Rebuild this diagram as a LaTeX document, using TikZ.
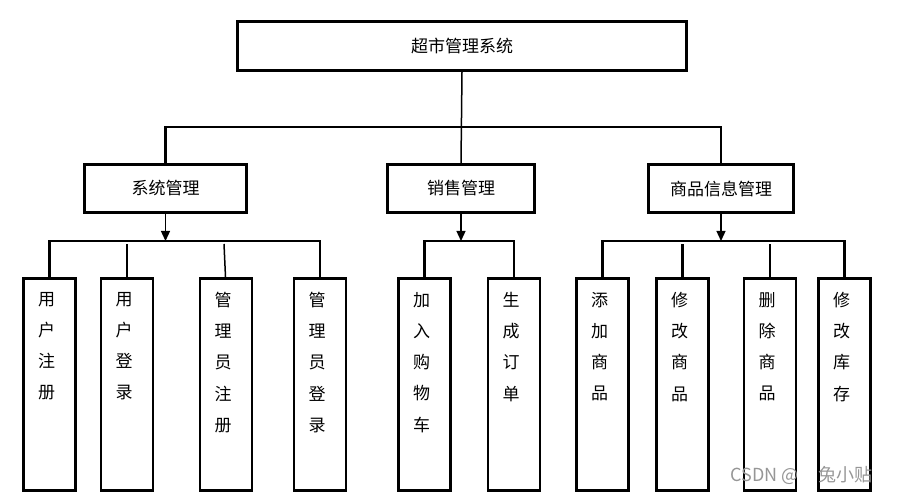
\documentclass[tikz,border=0pt]{standalone}
\usepackage{fontspec}
\newfontfamily\cjk{Noto Sans CJK SC}
\usetikzlibrary{arrows.meta}
\definecolor{wmgray}{RGB}{150,150,150}
\begin{document}
\begin{tikzpicture}[x=1pt,y=-1pt,
  box/.style={draw, line width=2.7pt, inner sep=0pt, font=\cjk\fontsize{17pt}{20pt}\selectfont},
  tall/.style={box, minimum width=52pt, minimum height=212.3pt},
  mid/.style={box, minimum height=48.3pt},
  vtext/.style={anchor=north, inner sep=0pt, align=center, font=\cjk\fontsize{17pt}{31.2pt}\selectfont},
  bar/.style={line width=2.7pt},
  stub/.style={line width=2.4pt},
  thinline/.style={line width=1.5pt},
  arr/.style={line width=1.3pt, -{Triangle[width=9pt,length=10pt]}},
  wm/.style={inner sep=0pt, text=wmgray, font=\cjk\fontsize{18pt}{20pt}\selectfont}
]
\useasboundingbox (0,0) rectangle (908,494);

% top
\node[box, minimum width=449.3pt, minimum height=49.3pt] (top) at (462,46) {超市管理系统};

% middle level
\node[mid, minimum width=162.3pt] (sys) at (165.5,188.5) {系统管理};
\node[mid, minimum width=147.3pt] (sales) at (461,188.5) {销售管理};
\node[mid, minimum width=145.3pt] (goods) at (721,188.5) {商品信息管理};

% bottom level
\node[tall] (u1) at (49.5,384.5) {};
\node[tall] (u2) at (127,384.5) {};
\node[tall] (u3) at (226,384.5) {};
\node[tall] (u4) at (320,384.5) {};
\node[tall] (s1) at (424.5,384.5) {};
\node[tall] (s2) at (514,384.5) {};
\node[tall] (g1) at (602.5,384.5) {};
\node[tall] (g2) at (682.5,384.5) {};
\node[tall] (g3) at (770,384.5) {};
\node[tall] (g4) at (844.5,384.5) {};

\node[vtext] (tu1) at ([xshift=-3pt,yshift=-15pt]u1.north) {用\\户\\注\\册};
\node[vtext] (tu2) at ([xshift=-3pt,yshift=-15pt]u2.north) {用\\户\\登\\录};
\node[vtext] (tu3) at ([xshift=-3pt,yshift=-15pt]u3.north) {管\\理\\员\\注\\册};
\node[vtext] (tu4) at ([xshift=-3pt,yshift=-15pt]u4.north) {管\\理\\员\\登\\录};
\node[vtext] (ts1) at ([xshift=-3pt,yshift=-15pt]s1.north) {加\\入\\购\\物\\车};
\node[vtext] (ts2) at ([xshift=-3pt,yshift=-15pt]s2.north) {生\\成\\订\\单};
\node[vtext] (tg1) at ([xshift=-3pt,yshift=-15pt]g1.north) {添\\加\\商\\品};
\node[vtext] (tg2) at ([xshift=-3pt,yshift=-15pt]g2.north) {修\\改\\商\\品};
\node[vtext] (tg3) at ([xshift=-3pt,yshift=-15pt]g3.north) {删\\除\\商\\品};
\node[vtext] (tg4) at ([xshift=-3pt,yshift=-15pt]g4.north) {修\\改\\库\\存};

% bar coordinates
\coordinate (b0) at (462,127);
\coordinate (b1) at (165.5,241);
\coordinate (c1) at (0,244);

% top level connectors
\draw[bar] (sys.north) -- (sys.north |- b0) -- (goods.north |- b0) -- (goods.north);
\draw[thinline] (top.south) -- (sales.north);

% arrows from middle boxes
\draw[arr] (sys.south) -- (sys.south |- b1);
\draw[arr] (sales.south) -- (sales.south |- b1);
\draw[arr] (goods.south) -- (goods.south |- b1);

% system group
\draw[bar] (u1.north) -- (u1.north |- b1) -- (u4.north |- b1) -- (u4.north);
\draw[stub] (u2.north) -- (u2.north |- c1);
\coordinate (c3) at (224,244);
\draw[thinline] (c3) -- ([xshift=-0.5pt]u3.north);

% sales group
\draw[bar] (s1.north) -- (s1.north |- b1) -- (s2.north |- b1) -- (s2.north);

% goods group
\draw[bar] (g1.north) -- (g1.north |- b1) -- (g4.north |- b1) -- (g4.north);
\draw[bar] (g2.north) -- (g2.north |- c1);
\draw[bar] (g3.north) -- (g3.north |- c1);

% watermark
\node[wm, anchor=base east] (wmark) at (873,481) {CSDN @\hspace{20pt}兔小贴};
\end{tikzpicture}
\end{document}
